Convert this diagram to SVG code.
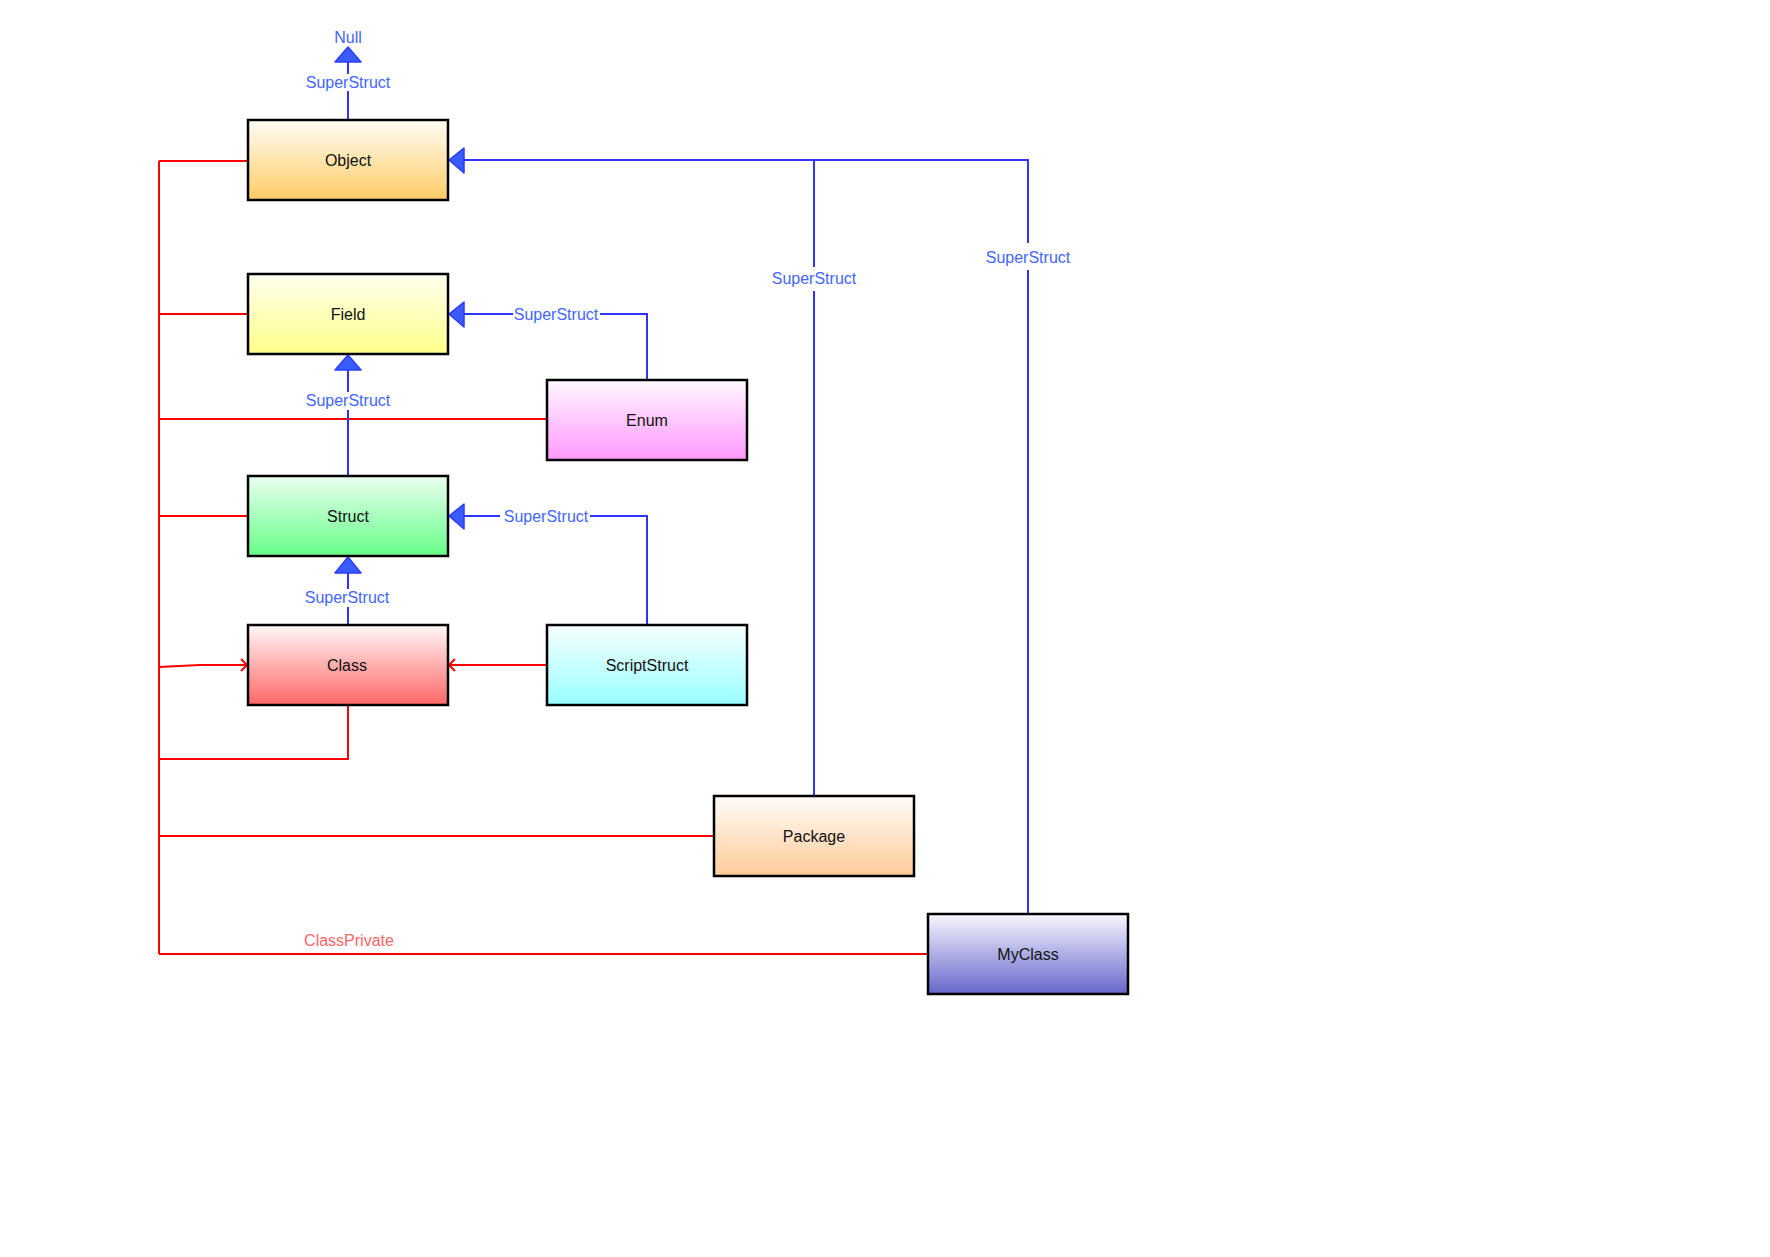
<svg xmlns="http://www.w3.org/2000/svg" width="1770" height="1257" viewBox="0 0 1770 1257">
<style>
.box{stroke:#000;stroke-width:2.5}
.nt{font-family:"Liberation Sans",Arial,sans-serif;font-size:16px;fill:#111;text-anchor:middle}
.bl{stroke:#3333ff;stroke-width:2;fill:none}
.rl{stroke:#ff0000;stroke-width:2;fill:none}
.lb{font-family:"Liberation Sans",Arial,sans-serif;font-size:16px;fill:#4466ff;text-anchor:middle}
.lr{font-family:"Liberation Sans",Arial,sans-serif;font-size:16px;fill:#ff6666;text-anchor:middle}
.tri{fill:#3a5cff;stroke:#2a3cff;stroke-width:1.5;stroke-linejoin:round}
.bg{fill:#fff}
</style>
<defs>
<linearGradient id="gObject" x1="0" y1="0" x2="0" y2="1"><stop offset="0" stop-color="#fffdf5"/><stop offset="1" stop-color="#ffcc66"/></linearGradient>
<linearGradient id="gField" x1="0" y1="0" x2="0" y2="1"><stop offset="0" stop-color="#fffff0"/><stop offset="1" stop-color="#ffff88"/></linearGradient>
<linearGradient id="gEnum" x1="0" y1="0" x2="0" y2="1"><stop offset="0" stop-color="#fff8ff"/><stop offset="1" stop-color="#ff99ff"/></linearGradient>
<linearGradient id="gStruct" x1="0" y1="0" x2="0" y2="1"><stop offset="0" stop-color="#eafff0"/><stop offset="1" stop-color="#66ff88"/></linearGradient>
<linearGradient id="gClass" x1="0" y1="0" x2="0" y2="1"><stop offset="0" stop-color="#fff8f8"/><stop offset="1" stop-color="#ff6666"/></linearGradient>
<linearGradient id="gScript" x1="0" y1="0" x2="0" y2="1"><stop offset="0" stop-color="#f8ffff"/><stop offset="1" stop-color="#99ffff"/></linearGradient>
<linearGradient id="gPackage" x1="0" y1="0" x2="0" y2="1"><stop offset="0" stop-color="#fffcf8"/><stop offset="1" stop-color="#ffcc99"/></linearGradient>
<linearGradient id="gMyClass" x1="0" y1="0" x2="0" y2="1"><stop offset="0" stop-color="#f8f8ff"/><stop offset="1" stop-color="#6666cc"/></linearGradient>
</defs>
<rect width="1770" height="1257" fill="#fff"/>

<g id="connectors">
  <!-- red ClassPrivate tree -->
  <path class="rl" d="M159,161 L159,954"/>
  <path class="rl" d="M159,161 L248,161"/>
  <path class="rl" d="M159,314 L248,314"/>
  <path class="rl" d="M159,419 L547,419"/>
  <path class="rl" d="M159,516 L248,516"/>
  <path class="rl" d="M159,667 L200,665 L247,665"/>
  <path class="rl" d="M241,659 L247,665 L241,671"/>
  <path class="rl" d="M348,705 L348,759 L159,759"/>
  <path class="rl" d="M159,836 L713,836"/>
  <path class="rl" d="M159,954 L927,954"/>
  <rect class="bg" x="300" y="929" width="98" height="18"/>
  <text class="lr" x="349" y="946">ClassPrivate</text>
  <!-- ScriptStruct -> Class red -->
  <path class="rl" d="M547,665 L449,665"/>
  <path class="rl" d="M455,659 L449,665 L455,671"/>

  <!-- Object -> Null -->
  <path class="bl" d="M348,120 L348,62"/>
  <polygon class="tri" points="348,47 335,62 361,62"/>
  <rect class="bg" x="305" y="74" width="86" height="17"/>
  <text class="lb" x="348" y="88">SuperStruct</text>
  <text class="lb" x="348" y="43">Null</text>

  <!-- Struct -> Field -->
  <path class="bl" d="M348,476 L348,370"/>
  <polygon class="tri" points="348,355 335,370 361,370"/>
  <rect class="bg" x="305" y="392" width="86" height="18"/>
  <text class="lb" x="348" y="406">SuperStruct</text>

  <!-- Class -> Struct -->
  <path class="bl" d="M348,625 L348,573"/>
  <polygon class="tri" points="348,557 335,573 361,573"/>
  <rect class="bg" x="304" y="589" width="86" height="18"/>
  <text class="lb" x="347" y="603">SuperStruct</text>

  <!-- Enum -> Field -->
  <path class="bl" d="M647,379 L647,314 L464,314"/>
  <polygon class="tri" points="449,314 464,302 464,327"/>
  <rect class="bg" x="513" y="305" width="87" height="18"/>
  <text class="lb" x="556" y="320">SuperStruct</text>

  <!-- ScriptStruct -> Struct -->
  <path class="bl" d="M647,625 L647,516 L464,516"/>
  <polygon class="tri" points="449,516 464,504 464,529"/>
  <rect class="bg" x="500" y="507" width="90" height="18"/>
  <text class="lb" x="546" y="522">SuperStruct</text>

  <!-- Package / MyClass -> Object -->
  <path class="bl" d="M814,796 L814,160"/>
  <path class="bl" d="M1028,914 L1028,160 L464,160"/>
  <polygon class="tri" points="449,160 464,148 464,173"/>
  <rect class="bg" x="771" y="267" width="86" height="24"/>
  <text class="lb" x="814" y="284">SuperStruct</text>
  <rect class="bg" x="985" y="243" width="86" height="27"/>
  <text class="lb" x="1028" y="263">SuperStruct</text>
</g>

<g id="node-object">
  <rect class="box" x="248" y="120" width="200" height="80" fill="url(#gObject)"/>
  <text class="nt" x="348" y="166">Object</text>
</g>
<g id="node-field">
  <rect class="box" x="248" y="274" width="200" height="80" fill="url(#gField)"/>
  <text class="nt" x="348" y="320">Field</text>
</g>
<g id="node-enum">
  <rect class="box" x="547" y="380" width="200" height="80" fill="url(#gEnum)"/>
  <text class="nt" x="647" y="426">Enum</text>
</g>
<g id="node-struct">
  <rect class="box" x="248" y="476" width="200" height="80" fill="url(#gStruct)"/>
  <text class="nt" x="348" y="522">Struct</text>
</g>
<g id="node-class">
  <rect class="box" x="248" y="625" width="200" height="80" fill="url(#gClass)"/>
  <text class="nt" x="347" y="671">Class</text>
</g>
<g id="node-scriptstruct">
  <rect class="box" x="547" y="625" width="200" height="80" fill="url(#gScript)"/>
  <text class="nt" x="647" y="671">ScriptStruct</text>
</g>
<g id="node-package">
  <rect class="box" x="714" y="796" width="200" height="80" fill="url(#gPackage)"/>
  <text class="nt" x="814" y="842">Package</text>
</g>
<g id="node-myclass">
  <rect class="box" x="928" y="914" width="200" height="80" fill="url(#gMyClass)"/>
  <text class="nt" x="1028" y="960">MyClass</text>
</g>
</svg>
